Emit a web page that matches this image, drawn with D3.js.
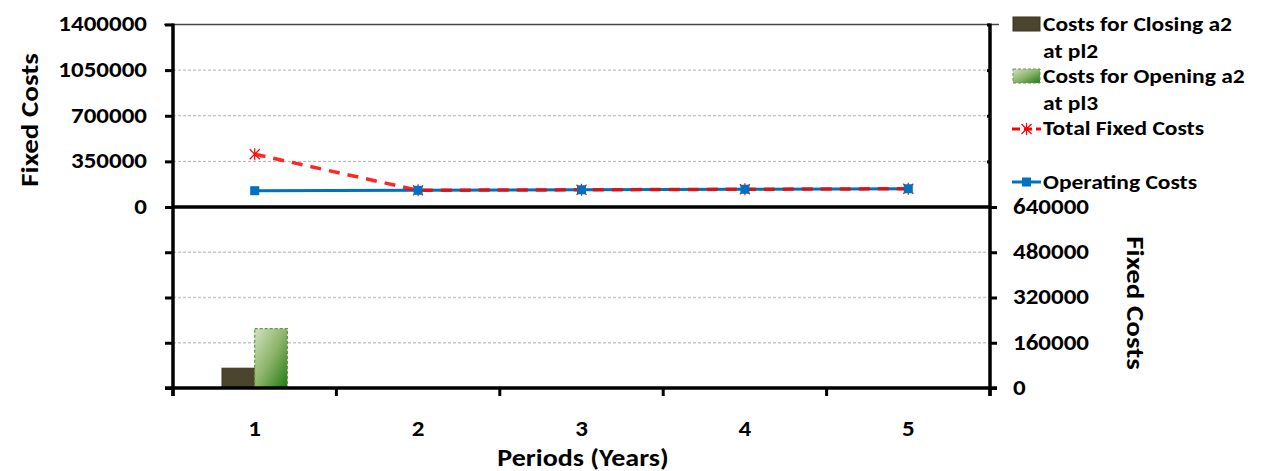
<!DOCTYPE html>
<html>
<head>
<meta charset="utf-8">
<script src="https://cdn.jsdelivr.net/npm/d3@7"></script>
<style>
  html, body { margin: 0; padding: 0; background: #fff; }
  svg text { font-family: Carlito, Lato, "Open Sans", sans-serif; font-weight: bold; fill: #000; }
</style>
</head>
<body>
<svg id="chart" width="1263" height="471"></svg>
<script>
// ---- data ----
const periods = [1, 2, 3, 4, 5];
const closingCosts = [70000, 0, 0, 0, 0];
const openingCosts = [210000, 0, 0, 0, 0];
const totalFixedCosts = [405000, 128000, 132000, 136000, 140000];
const operatingCosts = [125000, 128000, 132000, 136000, 140000];
const topTicks = [0, 350000, 700000, 1050000, 1400000];
const bottomTicks = [0, 160000, 320000, 480000, 640000];
const legendLabels = [["Costs for Closing a2", "at pl2"], ["Costs for Opening a2", "at pl3"], ["Total Fixed Costs"], ["Operating Costs"]];

// ---- layout ----
const L = 173, R = 990, T = 24.5, M = 207, B = 388;
const K = 0.85; // glyph height ratio (text in the reference is slightly wide)
const svg = d3.select("#chart");

// set a font size that gives the right width, then shrink glyph height
function fit(sel, size, k) {
  sel.each(function () {
    const t = d3.select(this);
    t.attr("font-size", size);
    const w = this.getComputedTextLength();
    t.attr("font-size", size * k).attr("textLength", w).attr("lengthAdjust", "spacingAndGlyphs");
  });
}

const defs = svg.append("defs");
const grad = defs.append("linearGradient").attr("id", "greenGrad")
  .attr("x1", "0%").attr("y1", "0%").attr("x2", "100%").attr("y2", "100%");
grad.append("stop").attr("offset", "0%").attr("stop-color", "#d2e2c0");
grad.append("stop").attr("offset", "50%").attr("stop-color", "#8db46a");
grad.append("stop").attr("offset", "100%").attr("stop-color", "#1e7a12");

const x = d3.scaleBand().domain(periods).range([L, R]).paddingInner(0).paddingOuter(0);
const xc = d => x(d) + x.bandwidth() / 2;
const yTop = d3.scaleLinear().domain([0, 1400000]).range([M, T]);
const yBot = d3.scaleLinear().domain([0, 640000]).range([B, M]);
const sub = d3.scaleBand().domain(["closing", "opening"]);

// gridlines
const grid = svg.append("g");
grid.selectAll("line.gt").data(topTicks.slice(1, -1)).join("line")
  .attr("x1", L).attr("x2", R).attr("y1", d => yTop(d)).attr("y2", d => yTop(d))
  .attr("stroke", "#b0b0b0").attr("stroke-width", 1).attr("stroke-dasharray", "3,2");
grid.selectAll("line.gb").data(bottomTicks.slice(1, -1)).join("line")
  .attr("x1", L).attr("x2", R).attr("y1", d => yBot(d)).attr("y2", d => yBot(d))
  .attr("stroke", "#c8c8c8").attr("stroke-width", 1.5).attr("stroke-dasharray", "3,2");

// top border
svg.append("line").attr("x1", 164).attr("x2", 999).attr("y1", T).attr("y2", T)
  .attr("stroke", "#444").attr("stroke-width", 1.5);

// bars
const barW = x.bandwidth() * 0.2;
periods.forEach((p, i) => {
  sub.range([xc(p) - barW, xc(p) + barW]);
  if (closingCosts[i] > 0) {
    svg.append("rect").attr("x", sub("closing")).attr("width", sub.bandwidth())
      .attr("y", yBot(closingCosts[i])).attr("height", yBot(0) - yBot(closingCosts[i]))
      .attr("fill", "#4b452d").attr("stroke", "#3a3522").attr("stroke-width", 1);
  }
  if (openingCosts[i] > 0) {
    svg.append("rect").attr("x", sub("opening")).attr("width", sub.bandwidth())
      .attr("y", yBot(openingCosts[i])).attr("height", yBot(0) - yBot(openingCosts[i]))
      .attr("fill", "url(#greenGrad)").attr("stroke", "#6f8f4f").attr("stroke-width", 1.2)
      .attr("stroke-dasharray", "3,2");
  }
});

// axes
const axLeftTop = d3.axisLeft(yTop).tickValues(topTicks).tickSize(8).tickPadding(18).tickFormat(d3.format("d"));
const gLT = svg.append("g").attr("transform", `translate(${L},0)`).call(axLeftTop);
const axLeftBot = d3.axisLeft(yBot).tickValues(bottomTicks.slice(0, -1)).tickSize(8).tickFormat("");
const gLB = svg.append("g").attr("transform", `translate(${L},0)`).call(axLeftBot);
const axRightTop = d3.axisLeft(yTop).tickValues(topTicks.slice(1)).tickSize(3).tickFormat("");
const gRT = svg.append("g").attr("transform", `translate(${R},0)`).call(axRightTop);
const axRightBot = d3.axisRight(yBot).tickValues(bottomTicks).tickSize(7).tickPadding(16).tickFormat(d3.format("d"));
const gRB = svg.append("g").attr("transform", `translate(${R},0)`).call(axRightBot);
const axX = d3.axisBottom(x).tickSize(0).tickPadding(40);
const gX = svg.append("g").attr("transform", `translate(0,${B})`).call(axX);

[gLT, gLB, gRT, gRB, gX].forEach(g => {
  g.selectAll(".domain").remove();
  g.selectAll(".tick line").attr("stroke", "#000").attr("stroke-width", 3);
  g.selectAll("text").style("font-family", "Carlito, Lato, sans-serif").attr("font-weight", "bold");
  fit(g.selectAll("text"), 25, K);
});
gX.selectAll("text").attr("dy", null).attr("y", 48);
gLT.selectAll("text").attr("dy", "0.3em");
gRB.selectAll("text").attr("dy", "0.3em");

// x tick marks at band boundaries
svg.append("g").selectAll("line").data(periods.concat([null])).join("line")
  .attr("x1", (d, i) => i < periods.length ? x(d) : R)
  .attr("x2", (d, i) => i < periods.length ? x(d) : R)
  .attr("y1", B).attr("y2", B + 8).attr("stroke", "#000").attr("stroke-width", 3);

// axis lines
svg.append("line").attr("x1", L).attr("x2", L).attr("y1", T - 1).attr("y2", B + 8).attr("stroke", "#000").attr("stroke-width", 3.5);
svg.append("line").attr("x1", R).attr("x2", R).attr("y1", T - 1).attr("y2", B + 8).attr("stroke", "#000").attr("stroke-width", 3.5);
svg.append("line").attr("x1", L).attr("x2", R).attr("y1", M).attr("y2", M).attr("stroke", "#000").attr("stroke-width", 3.5);
svg.append("line").attr("x1", L - 8).attr("x2", R + 7).attr("y1", B).attr("y2", B).attr("stroke", "#000").attr("stroke-width", 3.5);

// lines
const lineTop = d3.line().x((d, i) => xc(periods[i])).y(d => yTop(d));
svg.append("path").datum(operatingCosts).attr("d", lineTop)
  .attr("fill", "none").attr("stroke", "#0070c0").attr("stroke-width", 3);
svg.append("path").datum(totalFixedCosts).attr("d", lineTop)
  .attr("fill", "none").attr("stroke", "#ff0000").attr("stroke-width", 3.5)
  .attr("stroke-dasharray", "11,8").attr("stroke-opacity", 0.85);

function starMarker(g, cx, cy, s) {
  const path = `M${cx - s},${cy - s}L${cx + s},${cy + s}M${cx - s},${cy + s}L${cx + s},${cy - s}M${cx},${cy - s - 1}L${cx},${cy + s + 1}`;
  g.append("path").attr("d", path).attr("stroke", "#ff0000").attr("stroke-width", 1.2).attr("fill", "none");
}
const mk = svg.append("g");
totalFixedCosts.forEach((v, i) => starMarker(mk, xc(periods[i]), yTop(v), 5));
svg.append("g").selectAll("rect").data(operatingCosts).join("rect")
  .attr("x", (d, i) => xc(periods[i]) - 4.5).attr("y", d => yTop(d) - 4.5)
  .attr("width", 9).attr("height", 9).attr("fill", "#0070c0");

// axis titles
const t1 = svg.append("text").attr("transform", `translate(38,120) rotate(-90)`)
  .attr("text-anchor", "middle").text("Fixed Costs");
const t2 = svg.append("text").attr("transform", `translate(1127,303) rotate(90)`)
  .attr("text-anchor", "middle").text("Fixed Costs");
const t3 = svg.append("text").attr("x", 583).attr("y", 466)
  .attr("text-anchor", "middle").text("Periods (Years)");
fit(t1, 29, K); fit(t2, 29, K); fit(t3, 28, K);

// legend
const lg = svg.append("g");
const lx = 1013, tx = 1043;
lg.append("rect").attr("x", lx).attr("y", 17).attr("width", 27).attr("height", 14)
  .attr("fill", "#4b452d").attr("stroke", "#3a3522");
lg.append("rect").attr("x", lx).attr("y", 69).attr("width", 27).attr("height", 14)
  .attr("fill", "url(#greenGrad)").attr("stroke", "#6f8f4f").attr("stroke-dasharray", "3,2");
lg.append("line").attr("x1", lx - 1).attr("x2", lx + 28).attr("y1", 129).attr("y2", 129)
  .attr("stroke", "#ff0000").attr("stroke-width", 3).attr("stroke-dasharray", "8,4");
starMarker(lg, lx + 13.5, 129, 5);
lg.append("line").attr("x1", lx - 1).attr("x2", lx + 28).attr("y1", 182).attr("y2", 182)
  .attr("stroke", "#0070c0").attr("stroke-width", 3);
lg.append("rect").attr("x", lx + 9).attr("y", 177.5).attr("width", 9).attr("height", 9).attr("fill", "#0070c0");

const lyBase = [31, 83, 135, 189];
legendLabels.forEach((lines, i) => {
  lines.forEach((t, j) => {
    const el = lg.append("text").attr("x", tx).attr("y", lyBase[i] + j * 27).text(t);
    fit(el, 23.5, K);
  });
});
</script>
</body>
</html>
